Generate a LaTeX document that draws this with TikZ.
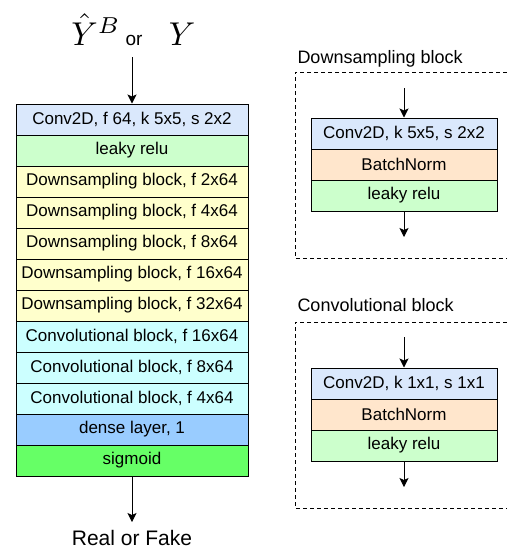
\documentclass[tikz,border=0pt]{standalone}
\usepackage{fontspec}
\setmainfont{Liberation Sans}
\usetikzlibrary{arrows.meta}
\usetikzlibrary{positioning}
\tikzset{>={Stealth[length=9pt,width=9pt,inset=2pt]}}
\definecolor{convblue}{HTML}{DAE8FC}
\definecolor{relugreen}{HTML}{CCFFCC}
\definecolor{downyellow}{HTML}{FFFFCC}
\definecolor{convcyan}{HTML}{CCFFFF}
\definecolor{denseblue}{HTML}{99CCFF}
\definecolor{sigmagreen}{HTML}{66FF66}
\definecolor{normorange}{HTML}{FFE6CC}
\tikzset{
  layer/.style={draw, line width=1pt, minimum width=232pt, minimum height=31pt,
    inner sep=0pt, font=\fontsize{17}{20}\selectfont},
  sublayer/.style={layer, minimum width=186pt},
  blockframe/.style={line width=1pt, dash pattern=on 4pt off 3pt},
  blocktitle/.style={anchor=west, inner sep=0pt, font=\fontsize{18}{21}\selectfont},
  bigmath/.style={anchor=base, inner sep=0pt}
}

\begin{document}
\begin{tikzpicture}[x=1pt,y=-1pt,line width=1pt]
  \useasboundingbox (0,0) rectangle (507,550);
  % discriminator stack
  \node [bigmath] (yhat) at (96,45) {\scalebox{3.3}{$\hat{Y}^B$}};
  \node [bigmath, font=\fontsize{19}{22}\selectfont] (ortext) at (134,45) {or};
  \node [bigmath] (yplain) at (182,45) {\scalebox{3.3}{$Y$}};
  \coordinate (inputtop) at (132,57);
  \node [layer, fill=convblue] (conv) at (132,119.5) {Conv2D, f 64, k 5x5, s 2x2};
  \node [layer, fill=relugreen] (relu) at (132,150.5) {leaky relu};
  \foreach \f [count=\i] in {2,4,8,16,32}{
    \node [layer, fill=downyellow] (down\i) at (132,150.5+31*\i) {Downsampling block, f \f x64};
  }
  \foreach \f [count=\i] in {16,8,4}{
    \node [layer, fill=convcyan] (cblock\i) at (132,305.5+31*\i) {Convolutional block, f \f x64};
  }
  \node [layer, fill=denseblue] (dense) at (132,429.5) {dense layer, 1};
  \node [layer, fill=sigmagreen] (sigmoid) at (132,460.5) {sigmoid};
  \node [font=\fontsize{21}{24}\selectfont] (output) at (132,538) {Real or Fake};
  \coordinate (outtip) at (132,522);
  \draw [->] (inputtop) -- (conv);
  \draw [->] (sigmoid) -- (outtip);

  % downsampling block
  \node [blocktitle] (dstitle) at (297,59) {Downsampling block};
  \draw [blockframe] (507,72) -- (295,72) -- (295,258) -- (507,258);
  \node [sublayer, fill=convblue] (dsconv) at (404,133.5) {Conv2D, k 5x5, s 2x2};
  \node [sublayer, fill=normorange] (dsnorm) at (404,164.5) {BatchNorm};
  \node [sublayer, fill=relugreen] (dsrelu) at (404,195.5) {leaky relu};
  \coordinate (dsin) at (404,88);
  \coordinate (dsout) at (404,237);
  \draw [->] (dsin) -- (dsconv);
  \draw [->] (dsrelu) -- (dsout);

  % convolutional block
  \node [blocktitle] (cbtitle) at (297,305) {Convolutional block};
  \draw [blockframe] (507,322) -- (295,322) -- (295,508) -- (507,508);
  \node [sublayer, fill=convblue] (cbconv) at (404,383.5) {Conv2D, k 1x1, s 1x1};
  \node [sublayer, fill=normorange] (cbnorm) at (404,414.5) {BatchNorm};
  \node [sublayer, fill=relugreen] (cbrelu) at (404,445.5) {leaky relu};
  \coordinate (cbin) at (404,337);
  \coordinate (cbout) at (404,487);
  \draw [->] (cbin) -- (cbconv);
  \draw [->] (cbrelu) -- (cbout);
\end{tikzpicture}
\end{document}
